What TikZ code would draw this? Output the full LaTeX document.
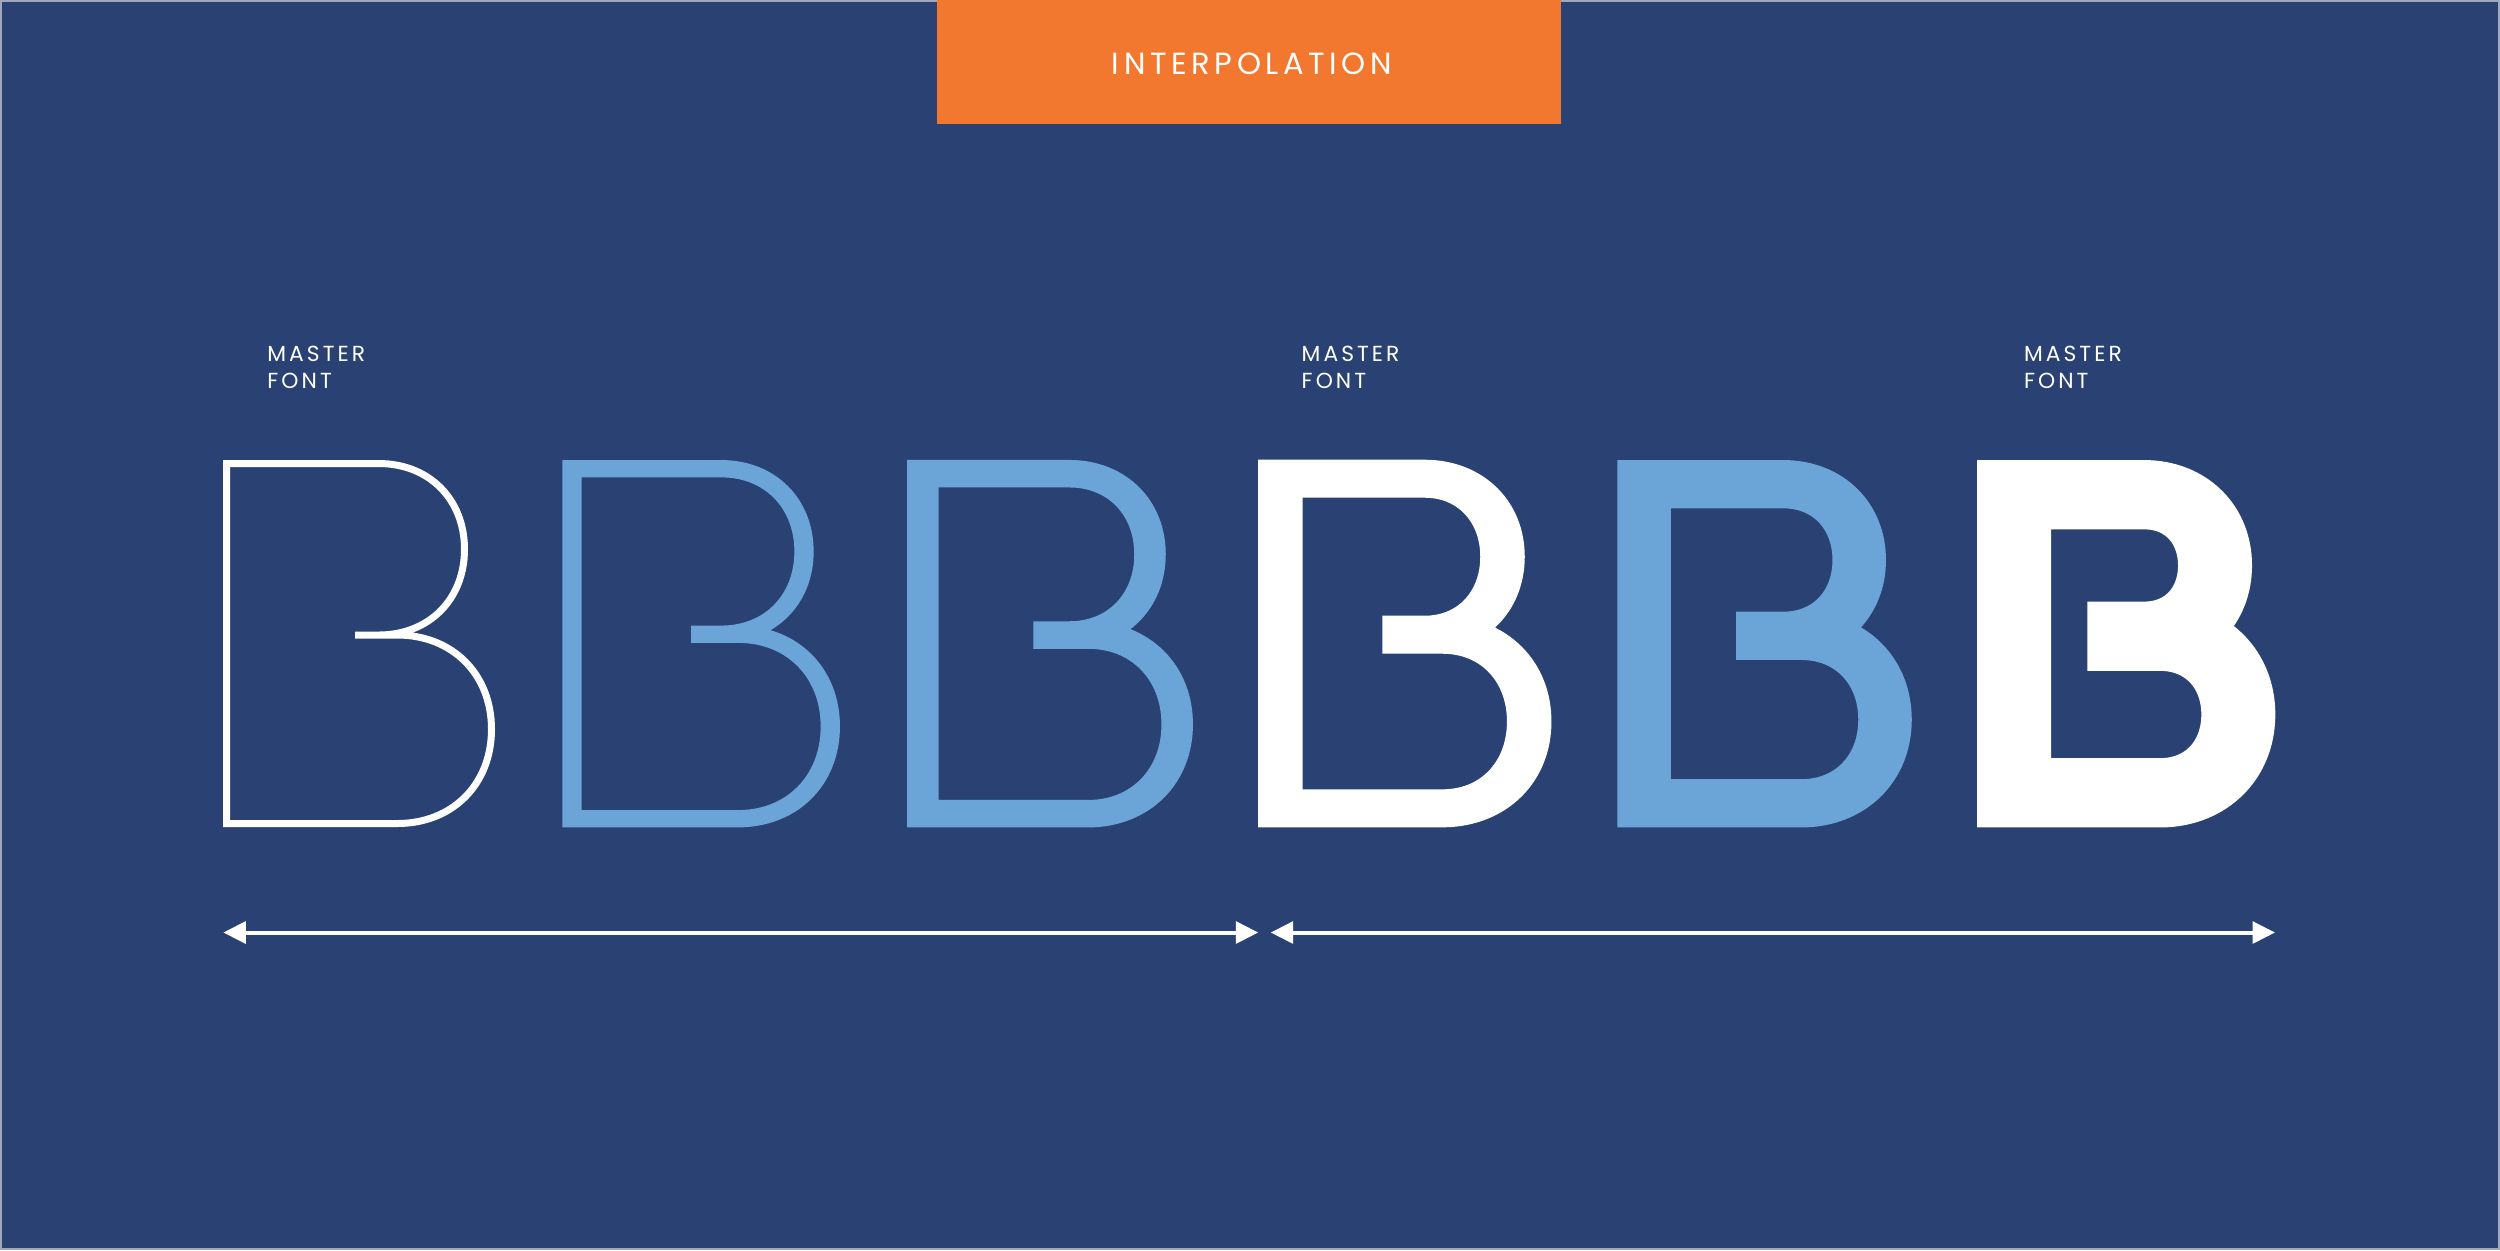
\documentclass[tikz,border=0pt]{standalone}
\usepackage{fontspec}
\setmainfont{Poppins}
\newfontfamily\labelfont[LetterSpace=14]{Poppins}
\newfontfamily\titlefont[LetterSpace=15]{Poppins}
\usetikzlibrary{arrows.meta}
\definecolor{navy}{RGB}{42,66,115}
\definecolor{orangebox}{RGB}{242,120,47}
\definecolor{lightblue}{RGB}{107,165,216}
\definecolor{edgegray}{RGB}{160,168,185}
% #1 L, #2 T, #3 Bt, #4 M, #5 barL, #6 topR, #7 botR, #8 horizontal width, #9 vertical width
\newcommand\Bglyph[9]{%
  \pgfmathsetmacro\sx{#9/#8}%
  \pgfmathsetmacro\rT{(#4-#2)/2}%
  \pgfmathsetmacro\rB{(#3-#4)/2}%
  \pgfmathsetmacro\cxT{(#6-\rT)/\sx}%
  \pgfmathsetmacro\cxB{(#7-\rB)/\sx}%
  \pgfmathsetmacro\RT{#6/\sx}%
  \pgfmathsetmacro\RB{#7/\sx}%
  \pgfmathsetmacro\Lx{#1/\sx}%
  \pgfmathsetmacro\bx{#5/\sx}%
  \pgfmathsetmacro\kTx{\cxT+\kap*\rT/\sx}%
  \pgfmathsetmacro\kBx{\cxB+\kap*\rB/\sx}%
  \pgfmathsetmacro\mT{#2+\rT}%
  \pgfmathsetmacro\mB{#4+\rB}%
  \pgfmathsetmacro\mTa{\mT-\kap*\rT}%
  \pgfmathsetmacro\mTb{\mT+\kap*\rT}%
  \pgfmathsetmacro\mBa{\mB-\kap*\rB}%
  \pgfmathsetmacro\mBb{\mB+\kap*\rB}%
  \begin{scope}[transform canvas={xscale=\sx}]
    \draw[glyph, line width=#8*0.01cm] (\bx,#4) -- (\cxB,#4)
      .. controls (\kBx,#4) and (\RB,\mBa) .. (\RB,\mB)
      .. controls (\RB,\mBb) and (\kBx,#3) .. (\cxB,#3)
      -- (\Lx,#3) -- (\Lx,#2) -- (\cxT,#2)
      .. controls (\kTx,#2) and (\RT,\mTa) .. (\RT,\mT)
      .. controls (\RT,\mTb) and (\kTx,#4) .. (\cxT,#4);
  \end{scope}}
\def\kap{0.585}
\tikzset{
  glyph/.style={line join=miter, line cap=butt},
  lbl/.style={anchor=base west, inner sep=0pt, text=white, font=\labelfont\fontsize{6.2pt}{7pt}\selectfont},
  span/.style={draw=white, line width=0.04cm, {Triangle[length=0.225cm,width=0.217cm]}-{Triangle[length=0.225cm,width=0.217cm]}}
}
\begin{document}
\begin{tikzpicture}[x=0.01cm, y=-0.01cm]
  \fill[navy] (0,0) rectangle (2500,1250);
  \useasboundingbox (0,0) rectangle (2500,1250);
  \draw[edgegray, line width=0.02cm] (1,1) rectangle (2499,1249);
  % title banner
  \fill[orangebox] (937,0) rectangle (1561,124);
  \node (title) [inner sep=0pt, text=white, font=\titlefont\fontsize{8.7pt}{10pt}\selectfont] at (1252,63.5) {INTERPOLATION};
  % labels
  \node (m1a) [lbl] at (266.7,361.3) {MASTER};
  \node (m1b) [lbl] at (266.7,388.8) {FONT};
  \node (m2a) [lbl] at (1301,361.3) {MASTER};
  \node (m2b) [lbl] at (1301,388.8) {FONT};
  \node (m3a) [lbl] at (2023.3,361.3) {MASTER};
  \node (m3b) [lbl] at (2023.3,388.8) {FONT};
  % glyphs
  \tikzset{glyph/.append style={draw=white}}
  \Bglyph{226.5}{463.5}{823.5}{635}{355}{464.5}{491.5}{7}{7}
  \tikzset{glyph/.append style={draw=lightblue}}
  \Bglyph{572}{468.7}{818.7}{634.2}{691}{804}{830.3}{17.3}{19.3}
  \Bglyph{922.8}{473.7}{813.7}{635}{1033.3}{1150}{1177.2}{27.5}{31.5}
  \tikzset{glyph/.append style={draw=white}}
  \Bglyph{1280.3}{478.7}{808.3}{634.7}{1382.3}{1502.5}{1529.2}{38}{44.5}
  \tikzset{glyph/.append style={draw=lightblue}}
  \Bglyph{1644}{484.2}{803.3}{635.8}{1736}{1859.2}{1885}{48.3}{53.5}
  \tikzset{glyph/.append style={draw=white}}
  \Bglyph{2014.2}{494.7}{792.8}{636.2}{2087.3}{2215}{2238.3}{69.3}{74}
  % arrows
  \coordinate (a1l) at (223.3,932.5);
  \coordinate (a1r) at (1258.3,932.5);
  \coordinate (a2l) at (1270.7,932.5);
  \coordinate (a2r) at (2275,932.5);
  \draw[span] (a1l) -- (a1r);
  \draw[span] (a2l) -- (a2r);
\end{tikzpicture}
\end{document}
